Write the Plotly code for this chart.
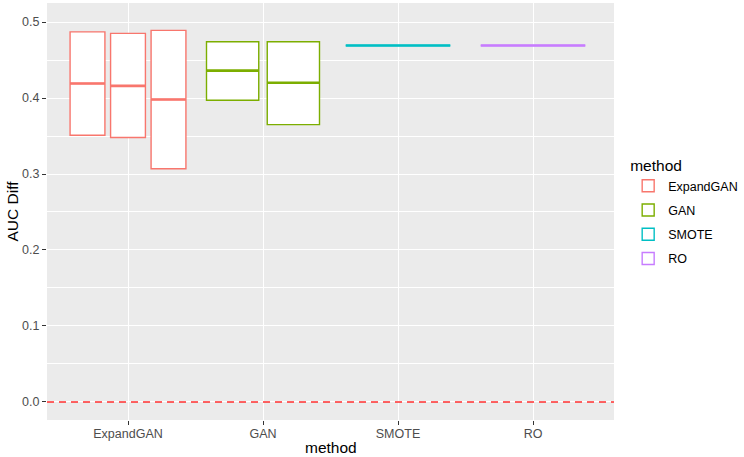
import plotly.graph_objects as go

# ---------------- data ----------------
methods = ["ExpandGAN", "GAN", "SMOTE", "RO"]
colors = ["#F8766D", "#7CAE00", "#00BFC4", "#C77CFF"]

# per-method lists of boxes (lower hinge, median, upper hinge)
q1_values = [[0.351, 0.348, 0.307], [0.397, 0.365], [0.469], [0.469]]
median_values = [[0.419, 0.416, 0.398], [0.436, 0.420], [0.469], [0.469]]
q3_values = [[0.487, 0.485, 0.489], [0.474, 0.474], [0.469], [0.469]]

y_ticks = [0.0, 0.1, 0.2, 0.3, 0.4, 0.5]
reference_line = 0.0

# ---------------- layout constants ----------------
DODGE = 0.9      # total dodge width per category
BOX_FRAC = 0.86  # fraction of a slot taken by a box
FONT = "Liberation Sans, Arial, sans-serif"

fig = go.Figure()

for i, m in enumerate(methods):
    n = len(q1_values[i])
    slot = DODGE / n
    xs = [i - DODGE / 2 + slot * (k + 0.5) for k in range(n)]
    w = slot * BOX_FRAC
    fig.add_trace(go.Box(
        x=xs,
        q1=q1_values[i], median=median_values[i], q3=q3_values[i],
        lowerfence=q1_values[i], upperfence=q3_values[i],
        width=w, name=m, fillcolor="white",
        line=dict(color=colors[i], width=1.4),
        boxpoints=False, whiskerwidth=0, hoverinfo="skip",
        legendgroup=m,
    ))
    mx, my = [], []
    for x, med in zip(xs, median_values[i]):
        mx += [x - w / 2, x + w / 2, None]
        my += [med, med, None]
    fig.add_trace(go.Scatter(
        x=mx, y=my, mode="lines", line=dict(color=colors[i], width=2.6),
        showlegend=False, hoverinfo="skip", legendgroup=m,
    ))

fig.add_hline(y=reference_line, line=dict(color="#ff3030", width=1.3, dash="7px,5px"))

fig.update_layout(
    width=744, height=457,
    margin=dict(l=47, r=130, t=3, b=37, autoexpand=False),
    paper_bgcolor="white", plot_bgcolor="#EBEBEB",
    font=dict(family=FONT, color="#000000"),
    boxmode="overlay",
    showlegend=True,
    legend=dict(
        title=dict(text="method", font=dict(size=15.5, color="#000000")),
        font=dict(size=12.5, color="#000000"),
        x=1.025, xanchor="left", y=0.645, yanchor="top",
        bgcolor="white", tracegroupgap=5, itemwidth=30,
    ),
    annotations=[
        dict(text="method", xref="paper", yref="paper", x=0.5, y=-27 / 417,
             xanchor="center", yanchor="middle", showarrow=False,
             font=dict(size=15.5, color="#000000", family=FONT)),
        dict(text="AUC Diff", xref="paper", yref="paper", x=-35 / 567, y=0.5,
             xanchor="center", yanchor="middle", showarrow=False, textangle=-90,
             font=dict(size=15.5, color="#000000", family=FONT)),
    ],
)

fig.update_xaxes(
    range=[-0.6, 3.6], automargin=False,
    tickmode="array", tickvals=list(range(len(methods))), ticktext=methods,
    showgrid=True, gridcolor="white", gridwidth=1.1, zeroline=False,
    ticks="outside", ticklen=4, tickwidth=1, tickcolor="#333333",
    tickfont=dict(size=12.5, color="#4D4D4D", family=FONT),
    ticklabelstandoff=-2,
    showline=False,
)

fig.update_yaxes(
    range=[-0.0237, 0.525], automargin=False,
    tickmode="array", tickvals=y_ticks, ticktext=[f"{v:.1f}" for v in y_ticks],
    showgrid=True, gridcolor="white", gridwidth=1.1, zeroline=False,
    minor=dict(tickmode="array", tickvals=[0.05, 0.15, 0.25, 0.35, 0.45],
               showgrid=True, gridcolor="white", gridwidth=0.5, ticks=""),
    ticks="outside", ticklen=4, tickwidth=1, tickcolor="#333333",
    tickfont=dict(size=12.5, color="#4D4D4D", family=FONT),
    showline=False,
)

fig.write_html("out.html", config={"displayModeBar": False},
               post_script="document.body.style.margin='0';")
